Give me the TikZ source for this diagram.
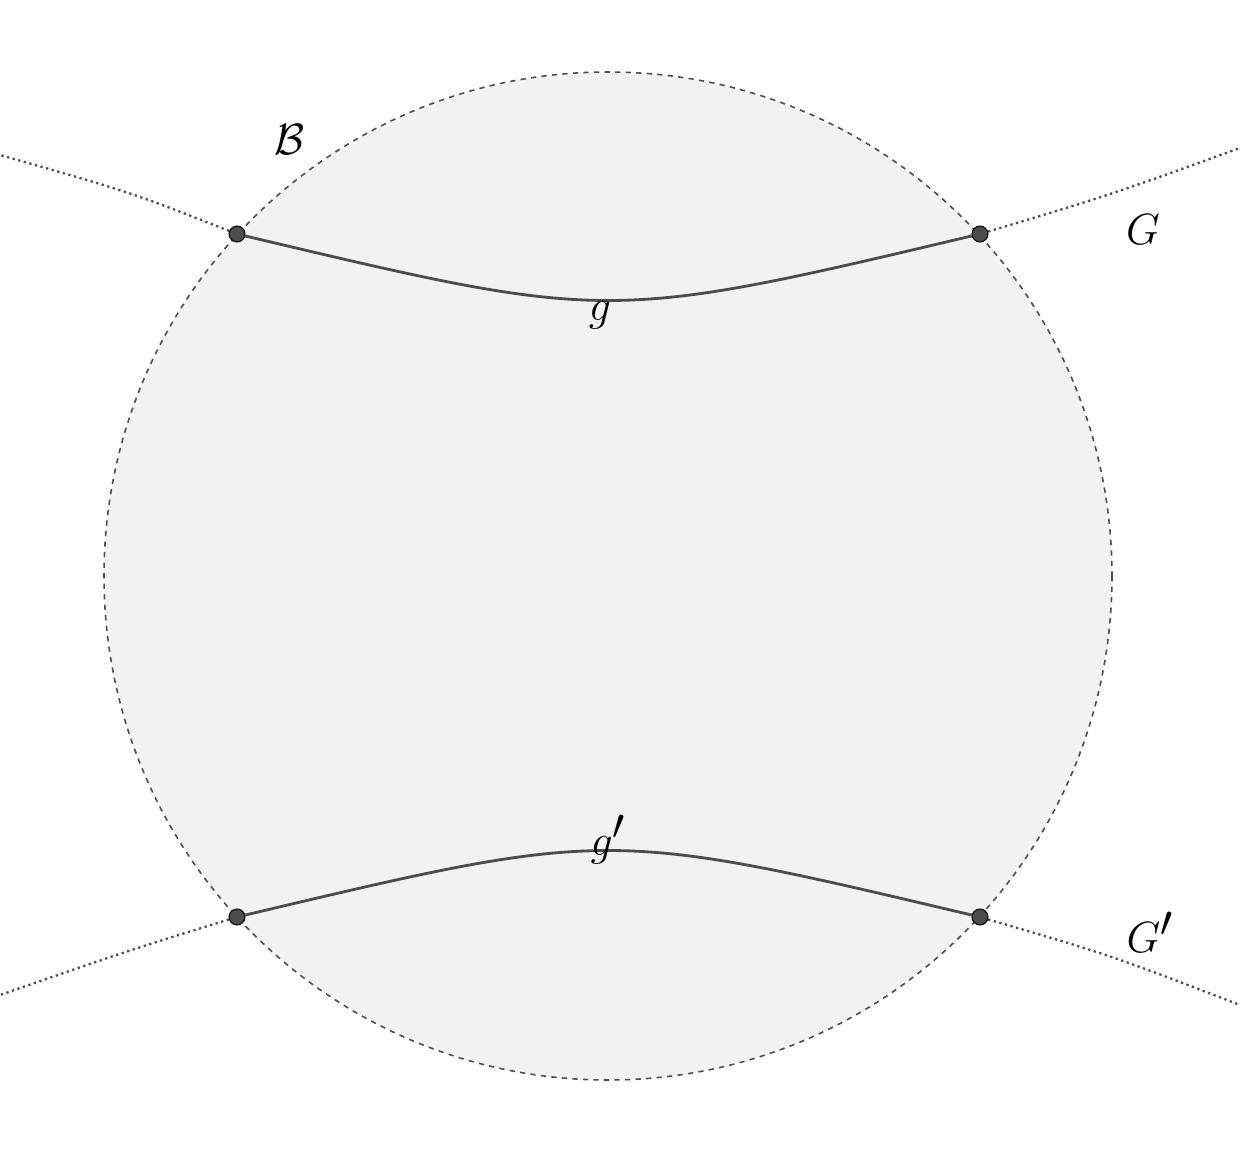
\documentclass[tikz,border=0pt]{standalone}
\begin{document}
\begin{tikzpicture}[x=0.02cm,y=-0.02cm,
  dot/.style={circle,fill=black!70,draw=black,inner sep=0pt,minimum size=0.32cm,line width=0.6pt},
  lbl/.style={font=\fontsize{36}{40}\selectfont},
  geo/.style={line width=1.6pt,black!70},
  ext/.style={dotted,line width=1.3pt,black!70}]
\useasboundingbox (0,0) rectangle (1252,1176);
\fill[black!5] (608,576) circle (504);
\draw[dashed,black!70,line width=0.9pt] (608,576) circle (504);
\node[dot] (a) at (237,234) {};
\node[dot] (b) at (980,234) {};
\node[dot] (c) at (237,917) {};
\node[dot] (d) at (980,917) {};
\coordinate (e1) at (0,155);
\coordinate (e2) at (1240,148);
\coordinate (e3) at (0,995);
\coordinate (e4) at (1240,1005);
\draw[geo] (a) .. controls (608,322) .. (b);
\draw[geo] (c) .. controls (608,829) .. (d);
\draw[ext] (a) .. controls (130,192) .. (e1);
\draw[ext] (b) .. controls (1110,195) .. (e2);
\draw[ext] (c) .. controls (130,950) .. (e3);
\draw[ext] (d) .. controls (1110,955) .. (e4);
\node[lbl] (B) at (290,140) {$\mathcal{B}$};
\node[lbl] (G) at (1143,230) {$G$};
\node[lbl] (g) at (600,315) {$g$};
\node[lbl] (gp) at (608,840) {$g'$};
\node[lbl] (Gp) at (1150,932) {$G'$};
\end{tikzpicture}
\end{document}
